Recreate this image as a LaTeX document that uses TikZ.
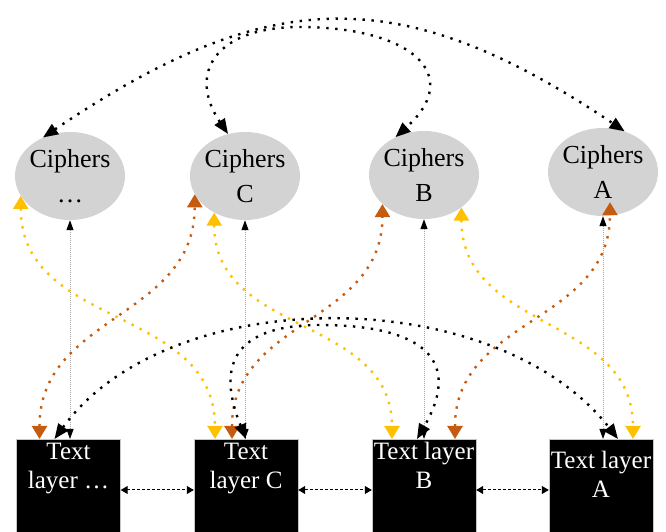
\documentclass[tikz,border=0pt]{standalone}
\usepackage{fontspec}
\setmainfont{Liberation Serif}
\usetikzlibrary{arrows.meta,shapes.geometric}
\definecolor{cipherGray}{RGB}{211,211,211}
\definecolor{goldLink}{RGB}{255,192,0}
\definecolor{rustLink}{RGB}{197,90,17}
\tikzset{
  cipher/.style={ellipse, fill=cipherGray, minimum width=110pt, minimum height=88pt, inner xsep=-2pt, inner ysep=0pt, align=center, font=\fontsize{26}{35}\selectfont},
  layer/.style={anchor=north, fill=black, draw=gray!45, text=white, minimum width=104pt, inner sep=0pt, text depth=75pt, font=\fontsize{25}{29}\selectfont},
  dotline/.style={line width=2.4pt, dash pattern=on 2.4pt off 6.6pt},
  blackarc/.style={dotline, black, {Triangle[length=15pt,width=12pt]}-{Triangle[length=15pt,width=12pt]}},
  goldarc/.style={dotline, goldLink, {Triangle[length=13pt,width=15pt]}-{Triangle[length=13pt,width=15pt]}},
  rustarc/.style={dotline, rustLink, {Triangle[length=13pt,width=15pt]}-{Triangle[length=13pt,width=15pt]}},
  feed/.style={gray!70, line width=1pt, dash pattern=on 1pt off 1pt, {Triangle[length=10pt,width=7pt,color=black]}-{Triangle[length=10pt,width=7pt,color=black]}},
  hop/.style={black, line width=1pt, dash pattern=on 3pt off 2pt, {Triangle[length=7pt,width=8pt]}-{Triangle[length=7pt,width=8pt]}}
}

\begin{document}
\begin{tikzpicture}[x=1pt,y=1pt]
  \path[use as bounding box, clip] (0,0) rectangle (666,532);
  % cipher ellipses
  \node[cipher] (cEll) at (70,356) {Ciphers\\…};
  \node[cipher] (cC) at (245,356) {Ciphers\\C};
  \node[cipher] (cB) at (424,357) {Ciphers\\B};
  \node[cipher] (cA) at (603,360) {Ciphers\\A};
  % text layers
  \node[layer] (tEll) at (68.5,93) {\begin{tabular}[t]{@{}c@{}}Text\\layer …\end{tabular}};
  \node[layer] (tC) at (246,93) {\begin{tabular}[t]{@{}c@{}}Text\\layer C\end{tabular}};
  \node[layer] (tB) at (424,93) {\begin{tabular}[t]{@{}c@{}}Text layer\\B\end{tabular}};
  \node[layer, text height=29pt] (tA) at (601,93) {\begin{tabular}[t]{@{}c@{}}Text layer\\A\end{tabular}};
  % links between ciphers
  \draw[blackarc] (cEll.125) to[out=34,in=146,out distance=268pt,in distance=274pt] (cA.62);
  \coordinate (topCB) at (300,505);
  \draw[blackarc] (cC.112) to[out=124,in=180,out distance=73pt,in distance=85pt] (topCB)
    to[out=0,in=42,out distance=110pt,in distance=94pt] (cB.127);
  % cipher to own layer
  \draw[feed] (cEll.south) -- (cEll.south |- tEll.north);
  \draw[feed] (cC.south) -- (cC.south |- tC.north);
  \draw[feed] (cB.south) -- (cB.south |- tB.north);
  \draw[feed] (cA.south) -- (cA.south |- tA.north);
  % cipher to next layer
  \draw[goldarc] (cEll.202) to[out=-90,in=90,looseness=1.1] ([xshift=-31pt]tC.north);
  \draw[goldarc] (cC.230) to[out=-90,in=90,looseness=1.1] ([xshift=-32pt]tB.north);
  \draw[goldarc] (cB.-41) to[out=-90,in=90,looseness=1.1] ([xshift=32pt]tA.north);
  % layer to next cipher
  \draw[rustarc] ([xshift=-29pt]tEll.north) to[out=90,in=-90,looseness=1.1] (cC.200);
  \draw[rustarc] ([xshift=-14pt]tC.north) to[out=90,in=-90,looseness=1.1] (cB.215);
  \draw[rustarc] ([xshift=31pt]tB.north) to[out=90,in=-90,looseness=1.1] ([shift={(7pt,14pt)}]cA.south);
  % links between layers
  \draw[blackarc] ([xshift=-14pt]tEll.north) to[out=54,in=128,out distance=194pt,in distance=200pt] ([xshift=17pt]tA.north);
  \coordinate (topCtB) at (320,207);
  \draw[blackarc] (tC.north) to[out=112,in=180,out distance=90pt,in distance=75pt] (topCtB)
    to[out=0,in=60,out distance=90pt,in distance=100pt] ([xshift=-7pt]tB.north);
  \draw[hop] ([yshift=-51pt]tEll.north east) -- ([yshift=-51pt]tC.north west);
  \draw[hop] ([yshift=-51pt]tC.north east) -- ([yshift=-51pt]tB.north west);
  \draw[hop] ([yshift=-51pt]tB.north east) -- ([yshift=-51pt]tA.north west);
\end{tikzpicture}
\end{document}
